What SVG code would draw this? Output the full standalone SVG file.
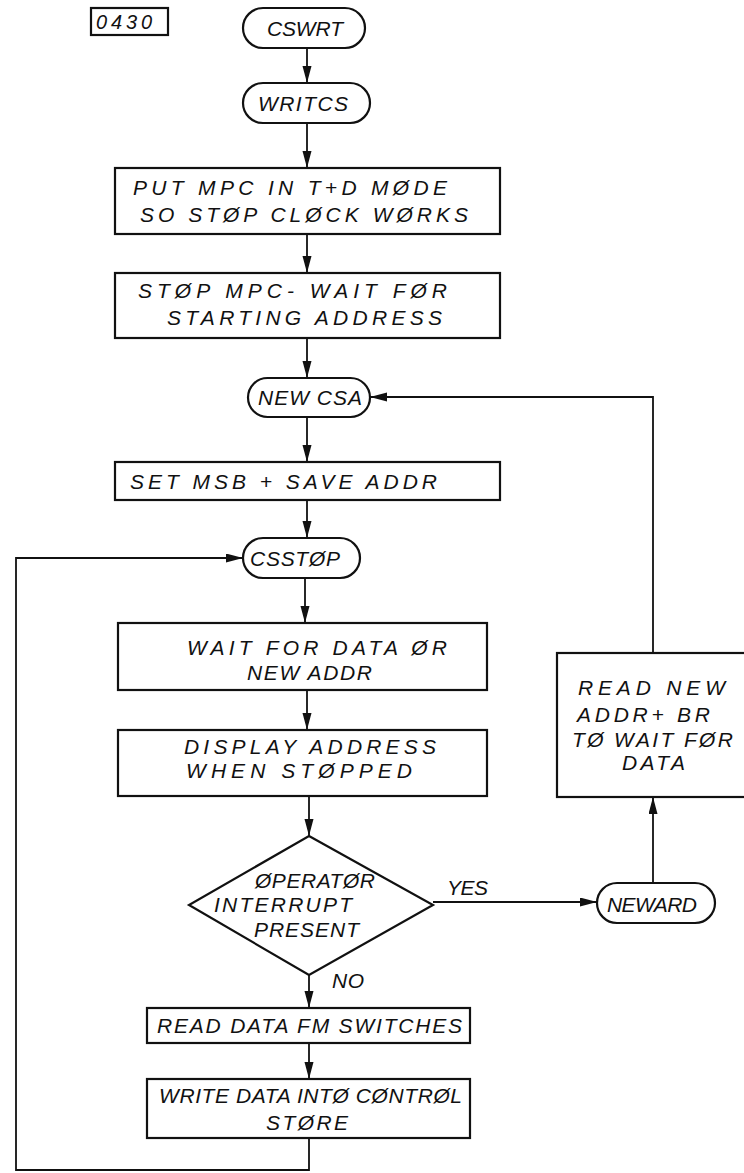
<svg xmlns="http://www.w3.org/2000/svg" width="744" height="1173" viewBox="0 0 744 1173">
<style>
.b{fill:#fff;stroke:#111;stroke-width:2.2}
.c{fill:none;stroke:#111;stroke-width:1.8}
text{font-family:"Liberation Sans",Arial,sans-serif;font-style:italic;font-size:21px;fill:#111}
</style>
<defs>
<marker id="ah" markerUnits="userSpaceOnUse" markerWidth="18" markerHeight="10" refX="17" refY="4.5" orient="auto">
<path d="M0,0 L17,4.5 L0,9 z" fill="#111"/>
</marker>
</defs>
<rect width="744" height="1173" fill="#fff"/>

<g id="connectors">
<line class="c" x1="307" y1="48" x2="307" y2="83" marker-end="url(#ah)"/>
<line class="c" x1="307" y1="123" x2="307" y2="168" marker-end="url(#ah)"/>
<line class="c" x1="307" y1="234" x2="307" y2="273" marker-end="url(#ah)"/>
<line class="c" x1="307" y1="338" x2="307" y2="378" marker-end="url(#ah)"/>
<line class="c" x1="307" y1="417" x2="307" y2="462" marker-end="url(#ah)"/>
<line class="c" x1="307" y1="500" x2="307" y2="538" marker-end="url(#ah)"/>
<line class="c" x1="305" y1="578" x2="305" y2="623" marker-end="url(#ah)"/>
<line class="c" x1="307" y1="690" x2="307" y2="730" marker-end="url(#ah)"/>
<line class="c" x1="309" y1="796" x2="309" y2="836" marker-end="url(#ah)"/>
<line class="c" x1="309" y1="975" x2="309" y2="1008" marker-end="url(#ah)"/>
<line class="c" x1="309" y1="1043" x2="309" y2="1079" marker-end="url(#ah)"/>
<polyline class="c" points="309,1138 309,1170 16,1170 16,558 243,558" marker-end="url(#ah)"/>
<line class="c" x1="433" y1="902" x2="597" y2="902" marker-end="url(#ah)"/>
<line class="c" x1="653" y1="883" x2="653" y2="797" marker-end="url(#ah)"/>
<polyline class="c" points="653,653 653,397 370,397" marker-end="url(#ah)"/>
</g>

<g id="label0430">
<rect class="b" x="91" y="8" width="77" height="27"/>
<text x="96" y="29" textLength="56" style="font-size:20px">0430</text>
</g>

<g id="cswrt">
<rect class="b" x="243" y="8" width="122" height="40" rx="20"/>
<text x="267" y="36" textLength="76">CSWRT</text>
</g>

<g id="writcs">
<rect class="b" x="243" y="83" width="127" height="40" rx="20"/>
<text x="258" y="111" textLength="90">WRITCS</text>
</g>

<g id="box-put-mpc">
<rect class="b" x="115" y="168" width="385" height="66"/>
<text x="133" y="195" textLength="314">PUT MPC IN T+D MØDE</text>
<text x="140" y="222" textLength="328">SO STØP CLØCK WØRKS</text>
</g>

<g id="box-stop-mpc">
<rect class="b" x="115" y="273" width="385" height="65"/>
<text x="138" y="298" textLength="309">STØP MPC- WAIT FØR</text>
<text x="167" y="325" textLength="275">STARTING ADDRESS</text>
</g>

<g id="newcsa">
<rect class="b" x="248" y="378" width="122" height="39" rx="19.5"/>
<text x="258" y="405" textLength="104">NEW CSA</text>
</g>

<g id="box-set-msb">
<rect class="b" x="115" y="462" width="385" height="38"/>
<text x="130" y="489" textLength="307">SET MSB + SAVE ADDR</text>
</g>

<g id="csstop">
<rect class="b" x="243" y="538" width="117" height="40" rx="20"/>
<text x="250" y="566" textLength="90">CSSTØP</text>
</g>

<g id="box-wait">
<rect class="b" x="118" y="623" width="369" height="67"/>
<text x="187" y="655" textLength="260">WAIT FOR DATA ØR</text>
<text x="247" y="680" textLength="125">NEW ADDR</text>
</g>

<g id="box-display">
<rect class="b" x="118" y="730" width="369" height="66"/>
<text x="184" y="754" textLength="252">DISPLAY ADDRESS</text>
<text x="186" y="778" textLength="226">WHEN STØPPED</text>
</g>

<g id="decision">
<polygon class="b" points="309,836 433,905 309,975 189,905"/>
<text x="255" y="888" textLength="120">ØPERATØR</text>
<text x="214" y="912" textLength="138">INTERRUPT</text>
<text x="254" y="937" textLength="105">PRESENT</text>
</g>

<g id="labels">
<text x="447" y="895" textLength="41">YES</text>
<text x="332" y="988" textLength="32">NO</text>
</g>

<g id="neward">
<rect class="b" x="597" y="883" width="118" height="40" rx="20"/>
<text x="607" y="912" textLength="90">NEWARD</text>
</g>

<g id="box-read-new">
<rect class="b" x="557" y="653" width="192" height="144"/>
<text x="578" y="695" textLength="147">READ NEW</text>
<text x="577" y="722" textLength="133">ADDR+ BR</text>
<text x="572" y="747" textLength="161">TØ WAIT FØR</text>
<text x="622" y="770" textLength="63">DATA</text>
</g>

<g id="box-read-data">
<rect class="b" x="147" y="1008" width="323" height="35"/>
<text x="157" y="1033" textLength="305">READ DATA FM SWITCHES</text>
</g>

<g id="box-write-data">
<rect class="b" x="147" y="1079" width="323" height="59"/>
<text x="159" y="1103" textLength="303">WRITE DATA INTØ CØNTRØL</text>
<text x="266" y="1130" textLength="82">STØRE</text>
</g>
</svg>
